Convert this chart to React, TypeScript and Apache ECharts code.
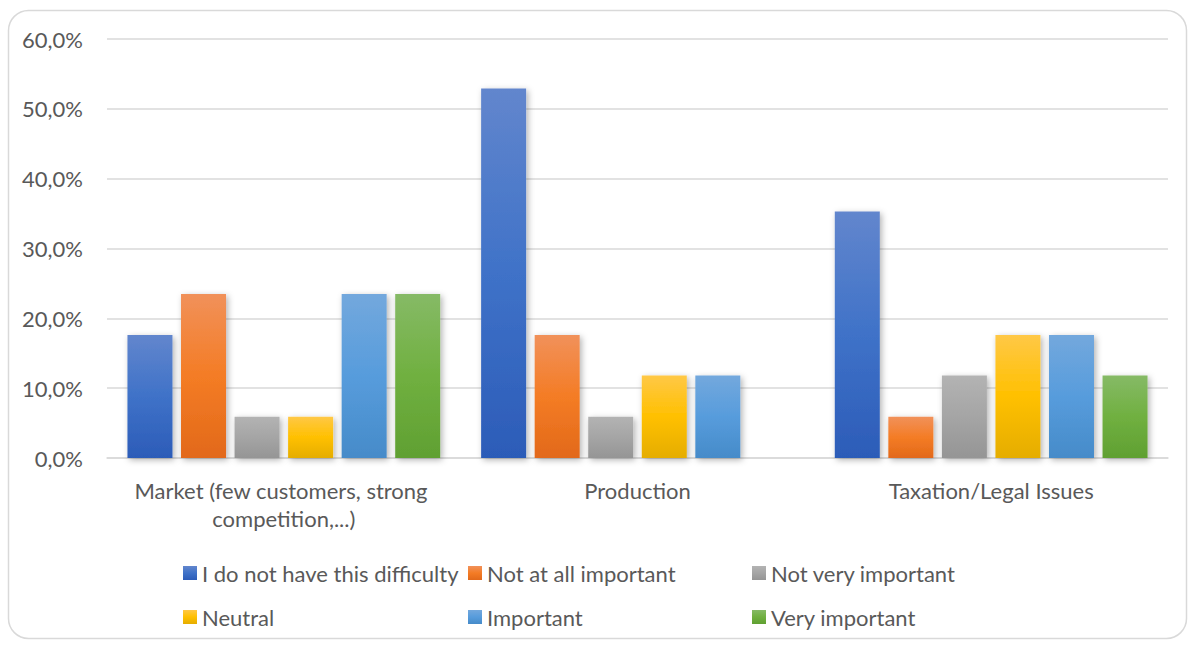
import React, { useEffect, useRef } from "react";
import * as echarts from "echarts";

const categories = [
  "Market (few customers, strong competition,...)",
  "Production",
  "Taxation/Legal Issues",
];
const seriesNames = [
  "I do not have this difficulty",
  "Not at all important",
  "Not very important",
  "Neutral",
  "Important",
  "Very important",
];
const noDifficulty = [17.6, 52.9, 35.3];
const notAtAll = [23.5, 17.6, 5.9];
const notVery = [5.9, 5.9, 11.8];
const neutral = [5.9, 11.8, 17.6];
const important = [23.5, 11.8, 17.6];
const veryImportant = [23.5, 0, 11.8];
const yTicks = [0, 10, 20, 30, 40, 50, 60];

const gradients: string[][] = [
  ["#6286CD", "#3F72C8", "#2C5CB8"],
  ["#F1915A", "#F47C25", "#E2691A"],
  ["#B3B3B3", "#A5A5A5", "#959595"],
  ["#FFC846", "#FFC000", "#E5AD00"],
  ["#73A8DD", "#579CDC", "#468BC9"],
  ["#86BA66", "#70B040", "#60A032"],
];

const FONT = "Lato";
const TXT = "#595959";
const FS = 22;

export default function App() {
  const ref = useRef<HTMLDivElement>(null);
  useEffect(() => {
    if (!ref.current) return;
    const chart = echarts.init(ref.current, undefined, { renderer: "svg" });
    const values = [noDifficulty, notAtAll, notVery, neutral, important, veryImportant];
    const series = seriesNames.map((name, i) => ({
      name,
      type: "bar",
      data: values[i],
      barWidth: 45,
      barGap: "19%",
      itemStyle: {
        color: new echarts.graphic.LinearGradient(0, 0, 0, 1, [
          { offset: 0, color: gradients[i][0] },
          { offset: 0.5, color: gradients[i][1] },
          { offset: 1, color: gradients[i][2] },
        ]),
        shadowBlur: 6,
        shadowColor: "rgba(0,0,0,0.3)",
        shadowOffsetX: 2,
        shadowOffsetY: 2,
      },
    }));
    const legendCols = [
      [seriesNames[0], seriesNames[3]],
      [seriesNames[1], seriesNames[4]],
      [seriesNames[2], seriesNames[5]],
    ];
    const legendLefts = [183, 468, 752];
    chart.setOption({
      animation: false,
      graphic: [
        {
          type: "rect",
          shape: { x: 8.5, y: 10.5, width: 1178, height: 628, r: 20 },
          style: { fill: "none", stroke: "#D9D9D9", lineWidth: 1.5 },
          silent: true,
        },
      ],
      legend: legendCols.map((col, i) => ({
        data: col,
        orient: "vertical",
        left: legendLefts[i],
        top: 561,
        padding: 0,
        itemWidth: 14,
        itemHeight: 14,
        itemGap: 20,
        icon: "rect",
        textStyle: { fontFamily: FONT, fontSize: FS, color: TXT, lineHeight: 24 },
      })),
      grid: { left: 107, right: 27, top: 39, bottom: 188 },
      xAxis: {
        type: "category",
        data: categories,
        axisLine: { lineStyle: { color: "#D9D9D9", width: 1.5 } },
        axisTick: { show: false },
        axisLabel: {
          fontFamily: FONT,
          fontSize: FS,
          color: TXT,
          lineHeight: 28,
          margin: 18,
          width: 330,
          overflow: "break",
          interval: 0,
        },
      },
      yAxis: {
        type: "value",
        min: yTicks[0],
        max: yTicks[yTicks.length - 1],
        interval: 10,
        axisLine: { show: false },
        axisTick: { show: false },
        splitLine: { lineStyle: { color: "#D9D9D9", width: 1.5 } },
        axisLabel: {
          fontFamily: FONT,
          fontSize: FS,
          color: TXT,
          margin: 24,
          formatter: (v: number) => v.toFixed(1).replace(".", ",") + "%",
        },
      },
      series,
    });
    return () => chart.dispose();
  }, []);
  return (
    <div
      ref={ref}
      style={{ position: "absolute", left: 0, top: 0, width: 1195, height: 646, background: "#fff" }}
    />
  );
}
